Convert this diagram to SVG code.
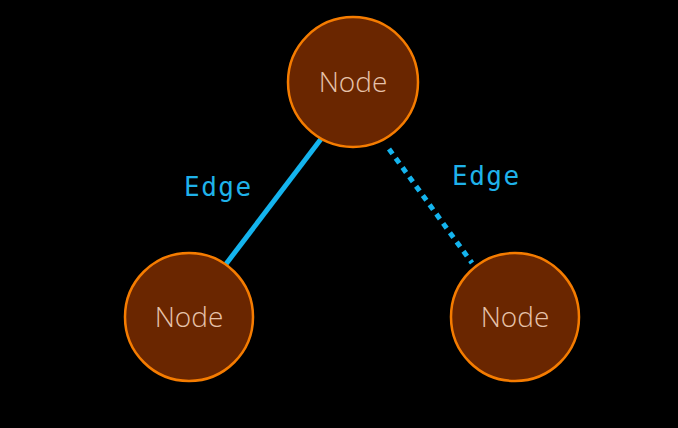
<svg xmlns="http://www.w3.org/2000/svg" width="678" height="428" viewBox="0 0 678 428">
<style>
.node circle{fill:#6a2600;stroke:#f57c00;stroke-width:2.5}
.node text{font-family:"Open Sans","Liberation Sans",sans-serif;font-weight:300;font-size:28px;fill:#e6c2aa;text-anchor:middle}
.lbl{font-family:"DejaVu Sans Mono","Liberation Mono",monospace;font-size:26px;letter-spacing:1.5px;fill:#1fb2ea}
.edge{stroke:#14b4ee;stroke-width:5;fill:none}
</style>
<rect width="678" height="428" fill="#000"/>
<g id="connectors">
<line class="edge" x1="321" y1="139" x2="226" y2="264"/>
<line class="edge" x1="389" y1="149" x2="472" y2="263" stroke-width="5.5" stroke-dasharray="6 5.5"/>
<text class="lbl" x="184" y="196">Edge</text>
<text class="lbl" x="452" y="185">Edge</text>
</g>
<g id="node-top" class="node">
<circle cx="353" cy="82" r="65"/>
<text x="353" y="92">Node</text>
</g>
<g id="node-left" class="node">
<circle cx="189" cy="317" r="64"/>
<text x="189" y="327">Node</text>
</g>
<g id="node-right" class="node">
<circle cx="515" cy="317" r="64"/>
<text x="515" y="327">Node</text>
</g>
</svg>
